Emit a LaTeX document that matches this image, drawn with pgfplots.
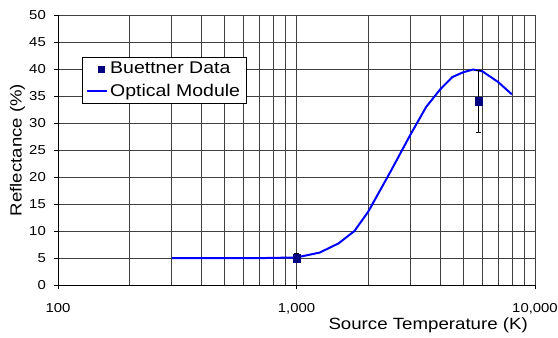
\documentclass[border=0pt]{standalone}
\usepackage{fontspec}
\setmainfont{Liberation Sans}[FakeStretch=1.15]
\usepackage{pgfplots}
\pgfplotsset{compat=1.18}
\definecolor{navymark}{RGB}{0,0,128}
\definecolor{curveblue}{RGB}{0,0,255}
\pgfplotsset{
  linelegend/.style={legend image code/.code={\draw[##1, draw=curveblue, line width=2bp] (0bp,0bp) -- (20bp,0bp);}},
  marklegend/.style={legend image code/.code={\draw[##1, mark size=3bp] plot coordinates {(14bp,0bp)};}},
}
\begin{document}
\begin{tikzpicture}
\begin{axis}[
  at={(0,0)}, anchor=south west,
  scale only axis, width=477bp, height=270bp,
  xmode=log, xmin=100, xmax=10000, ymin=0, ymax=50,
  xtick={100,1000,10000}, xticklabels={100,{1,000},{10,000}},
  minor xtick={200,300,400,500,600,700,800,900,2000,3000,4000,5000,6000,7000,8000,9000},
  ytick={0,5,10,15,20,25,30,35,40,45,50},
  grid=both,
  major grid style={black!75, line width=0.7bp},
  minor grid style={black!75, line width=0.7bp},
  axis x line=bottom, axis y line=left,
  axis line style={-, black, line width=0.8bp},
  tick align=outside, major tick length=4bp, minor tick length=0pt,
  tick style={black, line width=0.8bp},
  /pgf/number format/assume math mode=true,
  tick label style={font=\fontsize{13}{15}\selectfont},
  xticklabel style={yshift=-11bp},
  yticklabel style={xshift=-4.7bp},
  xlabel={Source Temperature (K)},
  ylabel={Reflectance (\%)},
  xlabel style={at={(axis description cs:0.776,-0.148)}, anchor=center, font=\fontsize{16.3}{18}\selectfont},
  ylabel style={at={(axis description cs:-0.085,0.5)}, anchor=center, rotate=0, font=\fontsize{16.2}{18}\selectfont},
  legend style={at={(axis description cs:0.0503,0.8444)}, anchor=north west,
    draw=black, fill=white,
    font=\fontsize{17}{19}\selectfont, inner xsep=4bp, inner ysep=3bp, row sep=5bp,
    /tikz/every even column/.append style={column sep=1bp}},
  legend cell align=left,
  reverse legend,
]
\addplot[draw=curveblue, line width=2bp, linelegend] coordinates {
(300,5.0) (500,5.0) (750,5.0) (1000,5.1) (1250,6.0) (1500,7.7) (1750,10.0)
(2000,13.6) (2500,21.3) (3000,27.8) (3500,33.0) (4000,36.2) (4500,38.5)
(5000,39.4) (5500,39.9) (6000,39.6) (7000,37.6) (8000,35.3)
};
\addlegendentry{Optical Module}
\addplot[only marks, mark=square*, mark size=3.8bp, mark options={draw=navymark, fill=navymark},
  marklegend,
  error bars/.cd, y dir=both, y explicit,
  error bar style={black, line width=0.8bp},
  error mark options={rotate=90, mark size=2.5bp, black, line width=0.8bp},
] coordinates {
(1000,5.0) +- (0,0.8)
(5800,34.0) +- (0,5.8)
};
\addlegendentry{Buettner Data}
\end{axis}
\pgfresetboundingbox
\path (-58bp,-53bp) rectangle (500bp,285bp);
\end{tikzpicture}
\end{document}
